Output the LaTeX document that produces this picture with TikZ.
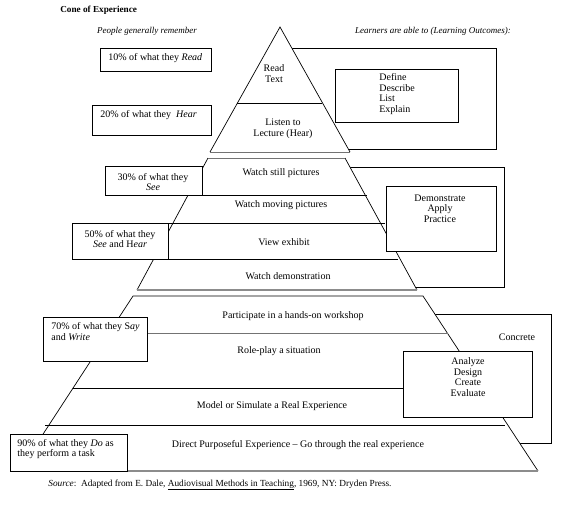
\documentclass[tikz,border=0pt]{standalone}
\usepackage{fontspec}
\setmainfont{Liberation Serif}
\begin{document}
\begin{tikzpicture}[x=1pt,y=-1pt,line width=0.7pt,
  every node/.style={font=\fontsize{10}{10.7}\selectfont, inner sep=0pt},
  boxst/.style={draw, fill=white, anchor=north west},
  obox/.style={draw, anchor=north west},
  grayline/.style={draw=black!45, line width=1.8pt},
  thingray/.style={draw=black!55, line width=0.9pt}]
\useasboundingbox (0,0) rectangle (580,504);
% outer boxes (behind pyramid)
\node[obox, minimum width=211pt, minimum height=101pt] (defout) at (285,48) {};
\node[obox, minimum width=204pt, minimum height=120pt] (demout) at (300,167) {};
\node[obox, minimum width=251pt, minimum height=129pt] (conout) at (300,314) {};
% top triangle
\fill[white] (280,27) -- (350,152) -- (210,152) -- cycle;
\draw (210,152) -- (280,27) -- (350,152);
\draw[thingray] (210,152) -- (350,152);
% middle trapezoid
\fill[white] (208,158) -- (345,158) -- (417,290) -- (137,290) -- cycle;
\draw (208,158) -- (137,290);
\draw (345,158) -- (417,290);
\draw[thingray] (208,158) -- (345,158);
\draw[grayline] (137,290) -- (417,290);
% bottom trapezoid
\fill[white] (133,296) -- (423,296) -- (538,471) -- (19,471) -- cycle;
\draw (19,471) -- (133,296) -- (423,296) -- (538,471);
\draw[grayline] (19,471) -- (538,471);
% internal lines
\draw (237,103) -- (322,103);
\draw (202,195) -- (367,195);
\draw (168,223) -- (385,223);
\draw (168,259) -- (398,259);
\draw[thingray] (147,333) -- (448,333);
\draw (73,388) -- (403,388);
\draw (45,425) -- (505,425);
% boxes on top
\node[boxst, minimum width=111pt, minimum height=23pt] (b10) at (100,48) {};
\node[boxst, minimum width=119pt, minimum height=30pt] (b20) at (92,105) {};
\node[boxst, minimum width=97pt, minimum height=29pt] (b30) at (105,166) {};
\node[boxst, minimum width=96pt, minimum height=36pt] (b50) at (72,223) {};
\node[boxst, minimum width=104pt, minimum height=44pt] (b70) at (43,317) {};
\node[boxst, minimum width=117pt, minimum height=37pt] (b90) at (10,434) {};
\node[boxst, minimum width=123pt, minimum height=53pt] (defin) at (335,69) {};
\node[boxst, minimum width=110pt, minimum height=65pt] (demin) at (386,186) {};
\node[boxst, minimum width=129pt, minimum height=66pt] (anain) at (403,351) {};
% texts
\node[anchor=west, font=\fontsize{9.2}{10}\selectfont\bfseries] (title) at (60,10) {Cone of Experience};
\node[font=\fontsize{9}{10}\selectfont\itshape] (hl) at (147,31) {People generally remember};
\node[font=\fontsize{9}{10}\selectfont\itshape] (hr) at (433,31) {Learners are able to (Learning Outcomes):};
\node[anchor=west] (t10) at (108,58) {10\% of what they \textit{Read}};
\node[anchor=west] (t20) at (100,115) {20\% of what they\ \ \textit{Hear}};
\node[align=center] (tread) at (274,73.5) {Read\\Text};
\node[align=center] (tlisten) at (283,129) {Listen to\\Lecture (Hear)};
\node[align=left, anchor=west] (tdef) at (379,94) {Define\\Describe\\List\\Explain};
\node[align=center] (t30) at (153,182) {30\% of what they\\\textit{See}};
\node (tstill) at (281,173) {Watch still pictures};
\node (tmoving) at (281,205) {Watch moving pictures};
\node (texhib) at (284,242) {View exhibit};
\node (tdemo) at (288,276) {Watch demonstration};
\node[align=center] (t50) at (120,239) {50\% of what they\\\textit{See} and H\textit{ear}};
\node[align=center] (tdem) at (440,208.5) {Demonstrate\\Apply\\Practice};
\node (tpart) at (293,316) {Participate in a hands-on workshop};
\node (trole) at (279,351) {Role-play a situation};
\node (tmodel) at (272,406) {Model or Simulate a Real Experience};
\node (tdirect) at (298,445) {Direct Purposeful Experience -- Go through the real experience};
\node[align=left, anchor=west] (t70) at (51,331.5) {70\% of what they S\textit{ay}\\and \textit{Write}};
\node[align=left, anchor=west] (t90) at (17,449) {90\% of what they \textit{Do} as\\they perform a task};
\node[align=center] (tana) at (468,377) {Analyze\\Design\\Create\\Evaluate};
\node (tconc) at (517,337) {Concrete};
\node[anchor=west, font=\fontsize{9.3}{10}\selectfont] (tsrc) at (48,485) {\textit{Source}:\ \ Adapted from E. Dale, \underline{Audiovisual Methods in Teaching}, 1969, NY: Dryden Press.};
\end{tikzpicture}
\end{document}
